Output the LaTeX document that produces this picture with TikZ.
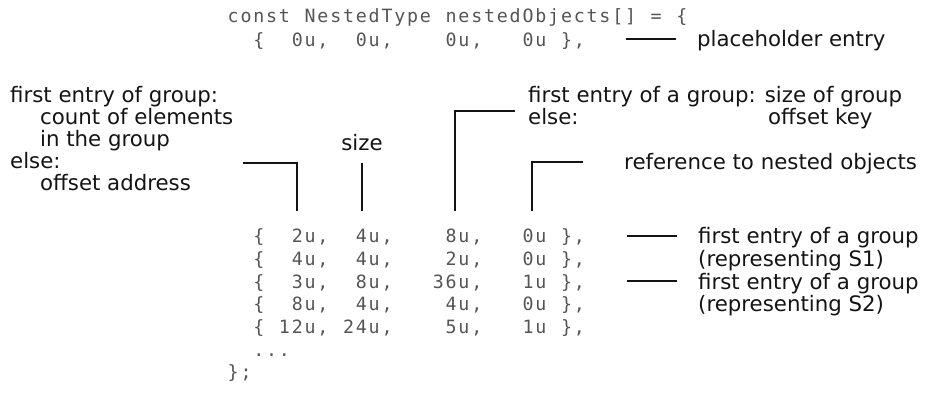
\documentclass[tikz,border=0pt]{standalone}
\usepackage{fontspec}
\setmainfont{DejaVu Sans}
\setmonofont{DejaVu Sans Mono}
\definecolor{codegray}{RGB}{85,85,85}
\definecolor{ink}{RGB}{20,20,20}
\newlength{\cellw}
\setlength{\cellw}{12.82pt}
\makeatletter
\newcommand\monoline[1]{\@tfor\mch:=#1\do{\makebox[\cellw][c]{\mch}}}
\makeatother
\begin{document}
\begin{tikzpicture}[x=1pt,y=-1pt,
  code/.style={font=\ttfamily\fontsize{18.3}{22.7}\selectfont, text=codegray, inner sep=0pt, anchor=base west},
  lab/.style={font=\fontsize{21.3}{22.2}\selectfont, text=ink, inner sep=0pt, anchor=base west},
  lead/.style={draw=ink, line width=1.3pt}]
\useasboundingbox (0,0) rectangle (928,410);
% code
\node[code] (c1) at (226.6,22.6) {\monoline{const~NestedType~nestedObjects[]~=~\{}};
\node[code] (c2) at (226.6,46.6) {\monoline{~~\{~~0u,~~0u,~~~~0u,~~~0u~\},}};
\node[code] (r1) at (226.6,242.6) {\monoline{~~\{~~2u,~~4u,~~~~8u,~~~0u~\},}};
\node[code] (r2) at (226.6,265.3) {\monoline{~~\{~~4u,~~4u,~~~~2u,~~~0u~\},}};
\node[code] (r3) at (226.6,288.0) {\monoline{~~\{~~3u,~~8u,~~~36u,~~~1u~\},}};
\node[code] (r4) at (226.6,310.7) {\monoline{~~\{~~8u,~~4u,~~~~4u,~~~0u~\},}};
\node[code] (r5) at (226.6,333.4) {\monoline{~~\{~12u,~24u,~~~~5u,~~~1u~\},}};
\node[code] (r6) at (226.6,356.1) {\monoline{~~...}};
\node[code] (r7) at (226.6,378.8) {\monoline{\};}};
% labels
\node[lab] (ph) at (697,46.5) {placeholder entry};
\node[lab] (l1) at (10,102.5) {first entry of group:};
\node[lab] (l2) at (40,124.5) {count of elements};
\node[lab] (l3) at (40,146.5) {in the group};
\node[lab] (l4) at (10,168.5) {else:};
\node[lab] (l5) at (40,190.5) {offset address};
\node[lab, anchor=base] (sz) at (362,150) {size};
\node[lab] (k1) at (528,102.5) {first entry of a group: size of group};
\node[lab] (k2) at (528,124.5) {else:};
\node[lab] (k3) at (768,124.5) {offset key};
\node[lab] (rf) at (624,169.5) {reference to nested objects};
\node[lab] (g1) at (698,243.5) {first entry of a group};
\node[lab] (g1b) at (698,266) {(representing S1)};
\node[lab] (g2) at (698,289) {first entry of a group};
\node[lab] (g2b) at (698,311.5) {(representing S2)};
% connector coordinates
\coordinate (phA) at (626,39); \coordinate (phB) at (676,39);
\coordinate (b1a) at (243,163); \coordinate (b1b) at (297,163); \coordinate (b1c) at (297,211);
\coordinate (sza) at (362,163); \coordinate (szb) at (362,211);
\coordinate (b3a) at (515,111); \coordinate (b3b) at (455,111); \coordinate (b3c) at (455,211);
\coordinate (b4a) at (583,162); \coordinate (b4b) at (532,162); \coordinate (b4c) at (532,211);
\coordinate (g1A) at (627,236); \coordinate (g1B) at (677,236);
\coordinate (g2A) at (627,281); \coordinate (g2B) at (677,281);
\draw[lead] (phA) -- (phB);
\draw[lead] (b1a) -- (b1b) -- (b1c);
\draw[lead] (sza) -- (szb);
\draw[lead] (b3a) -- (b3b) -- (b3c);
\draw[lead] (b4a) -- (b4b) -- (b4c);
\draw[lead] (g1A) -- (g1B);
\draw[lead] (g2A) -- (g2B);
\end{tikzpicture}
\end{document}
